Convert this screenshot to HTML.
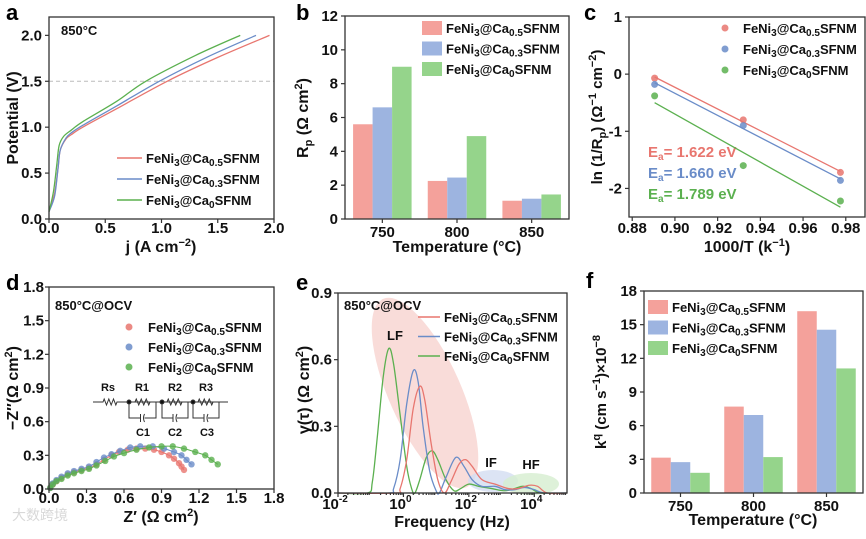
<!DOCTYPE html>
<html><head><meta charset="utf-8"><style>
html,body{margin:0;padding:0;background:#fff}
svg{display:block;font-family:"Liberation Sans","Noto Sans CJK SC",sans-serif}
</style></head><body>
<svg id="fig" width="866" height="539" viewBox="0 0 866 539" xmlns="http://www.w3.org/2000/svg"></svg>
<script>
// ---------- DATA ----------
const a_j_red=[0,0.05,0.08,0.1,0.15,0.2,0.3,0.6,1.05,1.5,1.96];
const a_v_red=[0.08,0.28,0.55,0.75,0.87,0.92,1.0,1.2,1.5,1.76,2.0];
const a_j_blue=[0,0.05,0.08,0.1,0.15,0.2,0.3,0.6,0.98,1.4,1.84];
const a_v_blue=[0.08,0.25,0.55,0.75,0.88,0.94,1.02,1.23,1.5,1.76,2.0];
const a_j_green=[0,0.04,0.07,0.09,0.13,0.2,0.3,0.6,0.86,1.3,1.70];
const a_v_green=[0.08,0.3,0.6,0.8,0.9,0.97,1.06,1.28,1.5,1.78,2.0];
const a_xticks=["0.0","0.5","1.0","1.5","2.0"];
const a_yticks=["0.0","0.5","1.0","1.5","2.0"];

const b_categories=["750","800","850"];
const b_red=[5.6,2.25,1.08];
const b_blue=[6.6,2.45,1.2];
const b_green=[9.0,4.9,1.45];
const b_yticks=["0","2","4","6","8","10","12"];

const c_x=[0.8905,0.932,0.9775];
const c_red=[-0.07,-0.8,-1.72];
const c_blue=[-0.18,-0.9,-1.86];
const c_green=[-0.38,-1.6,-2.22];
const c_xticks=["0.88","0.90","0.92","0.94","0.96","0.98"];
const c_yticks=["-2","-1","0","1"];
const c_ea=["1.622","1.660","1.789"];

const d_red_x=[0.01,0.03,0.06,0.1,0.15,0.2,0.26,0.32,0.38,0.44,0.5,0.56,0.63,0.7,0.77,0.84,0.9,0.96,1.0,1.04,1.06,1.08];
const d_red_y=[0.01,0.04,0.07,0.1,0.13,0.15,0.17,0.19,0.22,0.26,0.3,0.33,0.35,0.36,0.36,0.35,0.33,0.3,0.27,0.23,0.2,0.17];
const d_blue_x=[0.01,0.03,0.06,0.1,0.15,0.2,0.26,0.32,0.38,0.44,0.5,0.57,0.65,0.73,0.83,0.92,1.0,1.06,1.1,1.14];
const d_blue_y=[0.01,0.05,0.08,0.11,0.14,0.16,0.18,0.2,0.24,0.28,0.31,0.34,0.37,0.38,0.38,0.36,0.33,0.3,0.26,0.22];
const d_green_x=[0.01,0.03,0.06,0.1,0.15,0.2,0.26,0.32,0.38,0.45,0.52,0.6,0.7,0.8,0.9,0.99,1.08,1.17,1.25,1.3,1.35];
const d_green_y=[0.01,0.04,0.07,0.09,0.12,0.14,0.16,0.18,0.21,0.25,0.29,0.32,0.35,0.37,0.38,0.38,0.36,0.33,0.3,0.26,0.22];
const d_ticks=["0.0","0.3","0.6","0.9","1.2","1.5","1.8"];

const e_green_lf=[-2,-1.1,-0.95,-0.8,-0.62,-0.45,-0.3,-0.1,0.1,0.25,0.35,0.5,0.7,0.88,1.05,1.3,1.55,1.75,2.0,2.3,2.7,3.1,3.4,3.65,3.9,4.2,5];
const e_green_g=[0,0,0.05,0.25,0.52,0.65,0.58,0.35,0.12,0.02,0,0.06,0.16,0.19,0.15,0.06,0.01,0.02,0.04,0.03,0.02,0.01,0.02,0.03,0.02,0,0];
const e_blue_lf=[-2,-0.45,-0.3,-0.1,0.1,0.3,0.45,0.6,0.8,1.0,1.1,1.3,1.6,1.85,2.1,2.4,2.8,3.1,3.4,3.7,4.0,4.3,5];
const e_blue_g=[0,0,0.02,0.15,0.4,0.55,0.5,0.3,0.1,0.01,0,0.07,0.16,0.12,0.06,0.03,0.03,0.015,0.015,0.025,0.015,0,0];
const e_red_lf=[-2,-0.25,-0.1,0.1,0.3,0.5,0.65,0.85,1.05,1.25,1.45,1.7,1.9,2.1,2.4,2.8,3.2,3.5,3.85,4.1,4.4,5];
const e_red_g=[0,0,0.02,0.15,0.38,0.48,0.42,0.22,0.06,0,0.05,0.13,0.15,0.12,0.06,0.04,0.02,0.02,0.035,0.03,0,0];
const e_xticks=["-2","0","2","4"];
const e_yticks=["0.0","0.3","0.6","0.9"];

const f_categories=["750","800","850"];
const f_red=[3.15,7.7,16.2];
const f_blue=[2.75,6.95,14.55];
const f_green=[1.8,3.2,11.1];
const f_yticks=["0","3","6","9","12","15","18"];

// ---------- HELPERS ----------
const NS="http://www.w3.org/2000/svg";
const svg=document.getElementById('fig');
const RED="#e8766f",BLUE="#6a8cc8",GREEN="#5bb04f";
const RED_F="#f4a19b",BLUE_F="#9db4e0",GREEN_F="#95d48b";
function mk(tag,attrs,parent){const e=document.createElementNS(NS,tag);for(const k in attrs)e.setAttribute(k,attrs[k]);(parent||svg).appendChild(e);return e;}
function lin(d0,d1,r0,r1){return v=>r0+(v-d0)*(r1-r0)/(d1-d0);}
function txt(x,y,s,opt,name){
  opt=opt||{};
  const t=mk('text',{x:x,y:y,'font-size':opt.size||14,'font-weight':opt.weight||'bold','text-anchor':opt.anchor||'middle',fill:opt.fill||'#111'});
  if(opt.rot) t.setAttribute('transform','rotate(-90 '+x+' '+y+')');
  
  
  if(Array.isArray(s)){
    s.forEach(p=>{const ts=mk('tspan',{},t);
      if(typeof p==='string'){ts.textContent=p;}
      else{ts.textContent=p.t;ts.setAttribute('font-size',p.s||10);ts.setAttribute('dy',p.dy);}
    });
  } else t.textContent=s;
  return t;
}
function fenLabel(sub1){
  return ["FeNi",{t:"3",dy:3,s:10},{t:"@Ca",dy:-3,s:13},{t:sub1,dy:3,s:10},{t:"SFNM",dy:-3,s:13}];
}
function box(x0,y0,x1,y1,name){
  const r=mk('rect',{x:x0,y:y0,width:x1-x0,height:y1-y0,fill:'none',stroke:'#333','stroke-width':1.3});
  
  
}
function tick(x1,y1,x2,y2){const l=mk('line',{x1:x1,y1:y1,x2:x2,y2:y2,stroke:'#333','stroke-width':1.2});
  
  }
function smooth(pts){
  let d='M'+pts[0][0]+','+pts[0][1];
  for(let i=0;i<pts.length-1;i++){
    const p0=pts[Math.max(0,i-1)],p1=pts[i],p2=pts[i+1],p3=pts[Math.min(pts.length-1,i+2)];
    const c1x=p1[0]+(p2[0]-p0[0])/6,c1y=p1[1]+(p2[1]-p0[1])/6;
    const c2x=p2[0]-(p3[0]-p1[0])/6,c2y=p2[1]-(p3[1]-p1[1])/6;
    d+=' C'+c1x.toFixed(2)+','+c1y.toFixed(2)+' '+c2x.toFixed(2)+','+c2y.toFixed(2)+' '+p2[0].toFixed(2)+','+p2[1].toFixed(2);
  }
  return d;
}
function curve(xs,ys,sx,sy,color,name,w){
  const p=mk('path',{d:smooth(xs.map((v,i)=>[sx(v),sy(ys[i])])),fill:'none',stroke:color,'stroke-width':w||1.3});
  
  
}
function panelLetter(x,y,s){txt(x,y,s,{size:22,anchor:'start',fill:'#000'},'panel-letter-'+s);}

// ---------- PANEL A ----------
(function(){
  const sx=lin(0,2,49,274), sy=lin(0,2.2,219,17);
  const dl=mk('line',{x1:49,x2:274,y1:sy(1.5),y2:sy(1.5),stroke:'#bbb','stroke-dasharray':'4,3','stroke-width':1});
  
  
  curve(a_j_red,a_v_red,sx,sy,RED,'curve-ca05');
  curve(a_j_blue,a_v_blue,sx,sy,BLUE,'curve-ca03');
  curve(a_j_green,a_v_green,sx,sy,GREEN,'curve-ca0');
  box(49,17,274,219,'plot-area-a');
  a_xticks.forEach(t=>{const x=sx(+t);tick(x,219,x,223);txt(x,233,t,{size:15},'x-tick-label');});
  a_yticks.forEach(t=>{const y=sy(+t);tick(45,y,49,y);txt(42,y+5,t,{size:15,anchor:'end'},'y-tick-label');});
  txt(61,35,"850°C",{size:13,anchor:'start'},'temperature-note');
  [[RED,"0.5"],[BLUE,"0.3"],[GREEN,"0"]].forEach((c,i)=>{
    const y=158+i*21;
    const l=mk('line',{x1:117,x2:142,y1:y,y2:y,stroke:c[0],'stroke-width':1.5});
    
    
    txt(146,y+5,fenLabel(c[1]),{size:13,anchor:'start'},'legend-entry');
  });
  txt(18,118,"Potential (V)",{size:16,rot:true},'y-axis-title');
  txt(161,252,[{t:"j",dy:0,s:16},{t:" (A cm",dy:0,s:16},{t:"−2",dy:-6,s:11},{t:")",dy:6,s:16}],{size:16},'x-axis-title');
  panelLetter(6,20,"a");
})();

// ---------- PANEL B / F bars ----------
function barPanel(x0,y0,x1,y1,ymax,cats,reds,blues,greens,yt,legY,legX,prefix){
  const sy=lin(0,ymax,y1,y0);
  const gw=(x1-x0)/cats.length, bw=19.5;
  cats.forEach((c,i)=>{
    const cx=x0+gw*(i+0.5);
    [[reds,RED_F],[blues,BLUE_F],[greens,GREEN_F]].forEach((s,j)=>{
      const v=s[0][i];
      const r=mk('rect',{x:cx+(j-1.5)*bw,y:sy(v),width:bw,height:y1-sy(v),fill:s[1]});
      
      
    });
    tick(cx,y1,cx,y1+4);
    txt(cx,y1+18,c,{size:15},'x-tick-label');
  });
  box(x0,y0,x1,y1,prefix+'plot-area');
  yt.forEach(t=>{const y=sy(+t);tick(x0-4,y,x0,y);txt(x0-7,y+5,t,{size:15,anchor:'end'},'y-tick-label');});
  [[RED_F,"0.5"],[BLUE_F,"0.3"],[GREEN_F,"0"]].forEach((c,i)=>{
    const y=legY+i*20.5;
    const r=mk('rect',{x:legX,y:y-7,width:20,height:14,fill:c[0]});
    
    
    txt(legX+24,y+5,fenLabel(c[1]),{size:13,anchor:'start'},'legend-entry');
  });
}
barPanel(345,16,569,219,12,b_categories,b_red,b_blue,b_green,b_yticks,28,422,'b-');
txt(457,252,"Temperature (°C)",{size:16},'x-axis-title-b');
txt(308,118,["R",{t:"p",dy:4,s:11},{t:" (Ω cm",dy:-4,s:16},{t:"2",dy:-6,s:11},{t:")",dy:6,s:16}],{size:16,rot:true},'y-axis-title-b');
panelLetter(296,20,"b");

barPanel(644,291,863,493,18,f_categories,f_red,f_blue,f_green,f_yticks,307,648,'f-');
txt(753,525,"Temperature (°C)",{size:16},'x-axis-title-f');
txt(606,392,["k",{t:"q",dy:-6,s:11},{t:" (cm s",dy:6,s:15},{t:"−1",dy:-6,s:11},{t:")×10",dy:6,s:15},{t:"−8",dy:-6,s:11}],{size:15,rot:true},'y-axis-title-f');
panelLetter(586,288,"f");

// ---------- PANEL C ----------
(function(){
  const x0=629,x1=865,y0=17,y1=217;
  const sx=lin(0.8785,0.989,x0,x1), sy=lin(-2.5,1,y1,y0);
  [[c_red,RED],[c_blue,BLUE],[c_green,GREEN]].forEach((s,k)=>{
    const ys=s[0];const n=c_x.length;
    const mx=c_x.reduce((a,b)=>a+b)/n,my=ys.reduce((a,b)=>a+b)/n;
    let num=0,den=0;c_x.forEach((x,i)=>{num+=(x-mx)*(ys[i]-my);den+=(x-mx)*(x-mx);});
    const m=num/den,b=my-m*mx;
    const l=mk('line',{x1:sx(c_x[0]),y1:sy(m*c_x[0]+b),x2:sx(c_x[n-1]),y2:sy(m*c_x[n-1]+b),stroke:s[1],'stroke-width':1.3});
    
    
    c_x.forEach((x,i)=>{
      const c=mk('circle',{cx:sx(x),cy:sy(ys[i]),r:3.5,fill:s[1],opacity:0.85});
      
      
    });
    txt(648,157+k*21,["E",{t:"a",dy:3,s:10},{t:"= "+c_ea[k]+" eV",dy:-3,s:15}],{size:15,anchor:'start',fill:s[1]},'activation-energy-label');
  });
  box(x0,y0,x1,y1,'plot-area-c');
  c_xticks.forEach(t=>{const x=sx(+t);tick(x,y1,x,y1+4);txt(x,233,t,{size:15},'x-tick-label');});
  c_yticks.forEach(t=>{const y=sy(+t);tick(x0-4,y,x0,y);txt(x0-7,y+5,t,{size:15,anchor:'end'},'y-tick-label');});
  [[RED,"0.5"],[BLUE,"0.3"],[GREEN,"0"]].forEach((c,i)=>{
    const y=28+i*21;
    const ci=mk('circle',{cx:725,cy:y,r:3.5,fill:c[0],opacity:0.85});
    
    
    txt(743,y+5,fenLabel(c[1]),{size:13,anchor:'start'},'legend-entry');
  });
  txt(747,252,["1000/T (k",{t:"−1",dy:-6,s:11},{t:")",dy:6,s:16}],{size:16},'x-axis-title-c');
  txt(602,117,["ln (1/R",{t:"p",dy:4,s:11},{t:") (Ω",dy:-4,s:15},{t:"−1",dy:-6,s:11},{t:" cm",dy:6,s:15},{t:"−2",dy:-6,s:11},{t:")",dy:6,s:15}],{size:15,rot:true},'y-axis-title-c');
  panelLetter(584,20,"c");
})();

// ---------- PANEL D ----------
(function(){
  const x0=49,x1=274,y0=287,y1=489;
  const sx=lin(0,1.8,x0,x1), sy=lin(0,1.8,y1,y0);
  [[d_red_x,d_red_y,RED],[d_blue_x,d_blue_y,BLUE],[d_green_x,d_green_y,GREEN]].forEach(s=>{
    curve(s[0],s[1],sx,sy,s[2],'fit-curve',1);
    s[0].forEach((x,i)=>{
      const c=mk('circle',{cx:sx(x),cy:sy(s[1][i]),r:3.2,fill:s[2],opacity:0.8});
      
      
    });
  });
  box(x0,y0,x1,y1,'plot-area-d');
  d_ticks.forEach(t=>{const x=sx(+t);tick(x,y1,x,y1+4);txt(x,503,t,{size:15},'x-tick-label');});
  d_ticks.forEach(t=>{const y=sy(+t);tick(x0-4,y,x0,y);txt(x0-5,y+5,t,{size:15,anchor:'end'},'y-tick-label');});
  txt(55,310,"850°C@OCV",{size:13,anchor:'start'},'condition-note');
  [[RED,"0.5"],[BLUE,"0.3"],[GREEN,"0"]].forEach((c,i)=>{
    const y=327+i*20;
    const ci=mk('circle',{cx:129,cy:y,r:3.5,fill:c[0],opacity:0.85});
    
    
    txt(148,y+5,fenLabel(c[1]),{size:13,anchor:'start'},'legend-entry');
  });
  const g=mk('g',{stroke:'#333','stroke-width':1,fill:'none'});
  
  
  const zz=(a,b,y)=>{let d='';const n=6,w=(b-a)/n;for(let i=0;i<n;i++){d+=' L'+(a+w*(i+0.5))+','+(y+(i%2?3:-3));}d+=' L'+b+','+y;return d;};
  mk('path',{d:'M93,402 L103,402'+zz(103,117,402)+' L228,402'},g);
  [[129,135,150,156],[162,167,182,188],[193,198,213,219]].forEach(n=>{
    mk('path',{d:'M'+n[1]+',402'+zz(n[1],n[2],402)},g);
    const m=(n[0]+n[3])/2;
    mk('path',{d:'M'+n[0]+',402 L'+n[0]+',418 L'+(m-2)+',418 M'+(m+2)+',418 L'+n[3]+',418 L'+n[3]+',402'},g);
    mk('path',{d:'M'+(m-2)+',414 L'+(m-2)+',422 M'+(m+2)+',414 Q'+m+',418 '+(m+2)+',422'},g);
    mk('circle',{cx:n[0],cy:402,r:2,fill:'#111'},g);
  });
  txt(108,391,"Rs",{size:11},'circuit-label');
  txt(142,391,"R1",{size:11},'circuit-label');
  txt(175,391,"R2",{size:11},'circuit-label');
  txt(206,391,"R3",{size:11},'circuit-label');
  txt(143,436,"C1",{size:11},'circuit-label');
  txt(175,436,"C2",{size:11},'circuit-label');
  txt(207,436,"C3",{size:11},'circuit-label');
  txt(161,522,["Z′ (Ω cm",{t:"2",dy:-6,s:11},{t:")",dy:6,s:16}],{size:16},'x-axis-title-d');
  txt(18,388,["−Z″(Ω cm",{t:"2",dy:-6,s:11},{t:")",dy:6,s:16}],{size:16,rot:true},'y-axis-title-d');
  panelLetter(6,290,"d");
  txt(40,520,"大数跨境",{size:14,anchor:'middle',fill:'#d8d8d8',weight:'normal'},'watermark');
})();

// ---------- PANEL E ----------
(function(){
  const x0=338,x1=567,y0=293,y1=493;
  const sx=lin(-2,5,x0,x1), sy=lin(0,0.9,y1,y0);
  const e1=mk('ellipse',{cx:425,cy:393,rx:103,ry:36,fill:'#f8d3d0',opacity:0.8,transform:'rotate(66 425 393)'});
  
  
  const e2=mk('ellipse',{cx:493,cy:481,rx:25,ry:11,fill:'#d3ddf1',opacity:0.8});
  
  
  const e3=mk('ellipse',{cx:531,cy:484,rx:28,ry:11,fill:'#d6eecf',opacity:0.8});
  
  
  curve(e_green_lf,e_green_g,sx,sy,GREEN,'drt-ca0');
  curve(e_blue_lf,e_blue_g,sx,sy,BLUE,'drt-ca03');
  curve(e_red_lf,e_red_g,sx,sy,RED,'drt-ca05');
  box(x0,y0,x1,y1,'plot-area-e');
  for(let d=-2;d<5;d++){for(let k=2;k<10;k++){const x=sx(d+Math.log10(k));tick(x,y1,x,y1+2);}}
  e_xticks.forEach(t=>{const x=sx(+t);tick(x,y1,x,y1+4);txt(x-3,509,["10",{t:t,dy:-7,s:10}],{size:15},'x-tick-label');});
  e_yticks.forEach(t=>{const y=sy(+t);tick(x0-4,y,x0,y);txt(x0-6,y+5,t,{size:15,anchor:'end'},'y-tick-label');});
  txt(344,310,"850°C@OCV",{size:13,anchor:'start'},'condition-note');
  txt(395,340,"LF",{size:13},'lf-label');
  txt(491,467,"IF",{size:13},'if-label');
  txt(531,469,"HF",{size:13},'hf-label');
  [[RED,"0.5"],[BLUE,"0.3"],[GREEN,"0"]].forEach((c,i)=>{
    const y=317+i*19.5;
    const l=mk('line',{x1:418,x2:440,y1:y,y2:y,stroke:c[0],'stroke-width':1.5});
    
    
    txt(444,y+5,fenLabel(c[1]),{size:13,anchor:'start'},'legend-entry');
  });
  txt(452,527,"Frequency (Hz)",{size:16},'x-axis-title-e');
  txt(309,390,["γ(τ) (Ω cm",{t:"2",dy:-6,s:11},{t:")",dy:6,s:16}],{size:16,rot:true},'y-axis-title-e');
  panelLetter(296,290,"e");
})();
</script>
</body></html>
